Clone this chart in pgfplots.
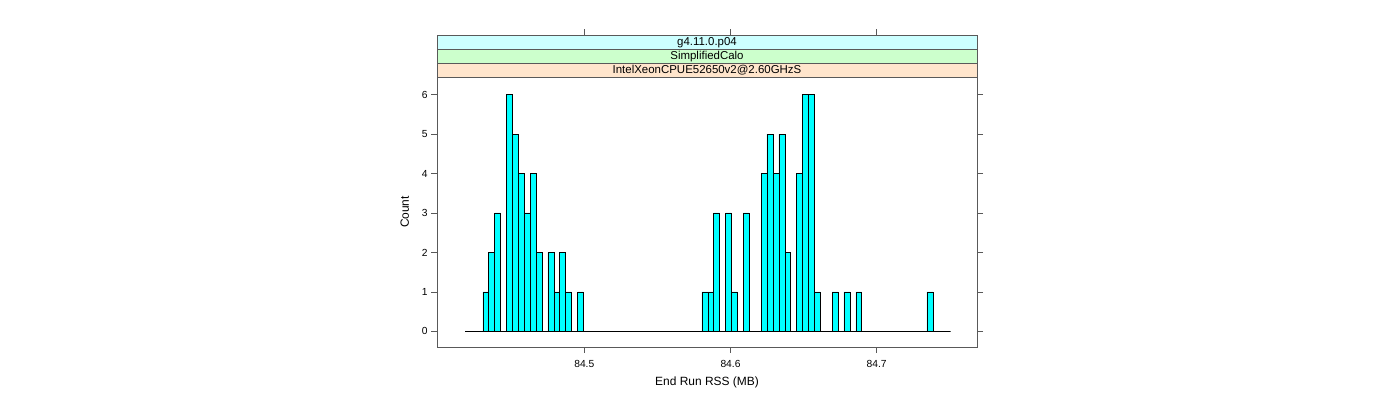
\documentclass[border=0pt]{standalone}
\usepackage{fontspec}
\setmainfont{Liberation Sans}
\usepackage{pgfplots}
\pgfplotsset{compat=1.18}
\definecolor{stripA}{HTML}{FFE5CC}
\definecolor{stripB}{HTML}{CCFFCC}
\definecolor{stripC}{HTML}{CCFFFF}
\definecolor{barcol}{HTML}{00FFFF}
\definecolor{axcol}{gray}{0.35}
\begin{document}
\begin{tikzpicture}[x=1bp,y=1bp]
\path[use as bounding box] (0,0) rectangle (1400,400);
% strips
\draw[axcol, fill=stripA] (437,322.7) rectangle (977,336.7);
\draw[axcol, fill=stripB] (437,336.7) rectangle (977,350.7);
\draw[axcol, fill=stripC] (437,350.7) rectangle (977,364.9);
\node[font=\fontsize{11.5}{13}\selectfont, inner sep=0pt] at (707,329.7) {IntelXeonCPUE52650v2@2.60GHzS};
\node[font=\fontsize{11.5}{13}\selectfont, inner sep=0pt] at (707,343.7) {SimplifiedCalo};
\node[font=\fontsize{11.5}{13}\selectfont, inner sep=0pt] at (707,357.7) {g4.11.0.p04};
\begin{axis}[
  at={(437bp,53.3bp)}, anchor=south west,
  width=540bp, height=269.4bp, scale only axis,
  xmin=84.39925, xmax=84.76861, ymin=-0.39, ymax=6.44,
  axis line style={axcol},
  tick style={axcol, line width=0.6pt},
  tick align=outside, major tick length=6bp,
  xtick={84.5,84.6,84.7}, xticklabels={84.5,84.6,84.7},
  xtick pos=lower,
  ytick={0,1,2,3,4,5,6}, ytick pos=both,
  yticklabel pos=left,
  /pgf/number format/assume math mode=true,
  tick label style={font=\fontsize{10.3}{12}\selectfont},
  xticklabel style={yshift=-4bp},
  label style={font=\fontsize{12}{14}\selectfont},
  xlabel={End Run RSS (MB)},
  ylabel={Count},
  xlabel style={yshift=-3bp},
  ylabel style={yshift=6bp},
  clip=false,
]
\addplot[ybar interval, fill=barcol, draw=black, line width=0.5pt] coordinates {
(84.41840,0) (84.43055,1) (84.43460,2) (84.43865,3) (84.44270,0)
(84.44675,6) (84.45080,5) (84.45485,4) (84.45890,3) (84.46295,4)
(84.46700,2) (84.47105,0) (84.47510,2) (84.47915,1) (84.48320,2)
(84.48725,1) (84.49130,0) (84.49535,1) (84.49940,0)
(84.58040,1) (84.58445,1) (84.58850,3) (84.59255,0) (84.59660,3)
(84.60065,1) (84.60470,0) (84.60875,3) (84.61280,0)
(84.62090,4) (84.62495,5) (84.62900,4) (84.63305,5) (84.63710,2)
(84.64115,0) (84.64520,4) (84.64925,6) (84.65330,6) (84.65735,1)
(84.66140,0) (84.66950,1) (84.67355,0) (84.67760,1) (84.68165,0)
(84.68570,1) (84.68975,0) (84.73430,1) (84.73835,0) (84.75050,0)
};
\end{axis}
\begin{axis}[
  at={(437bp,53.3bp)}, anchor=south west,
  width=540bp, height=311.6bp, scale only axis,
  xmin=84.39925, xmax=84.76861, ymin=0, ymax=1,
  axis x line*=top, axis y line=none,
  x axis line style={draw=none},
  tick style={axcol, line width=0.6pt},
  tick align=outside, major tick length=6bp,
  xtick={84.5,84.6,84.7}, xticklabels={},
]
\addplot[draw=none] coordinates {(84.5,0.5)};
\end{axis}
\end{tikzpicture}
\end{document}
